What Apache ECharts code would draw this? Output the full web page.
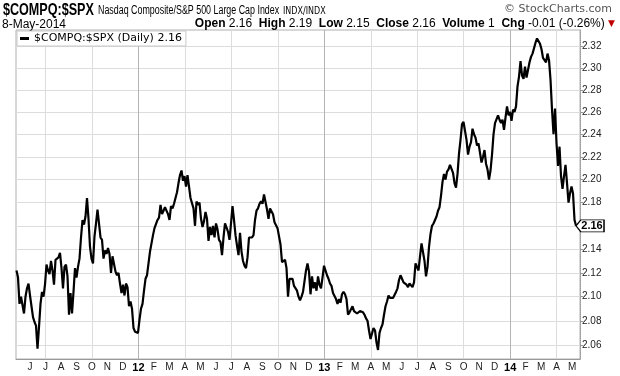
<!DOCTYPE html>
<html><head><meta charset="utf-8">
<script src="https://cdn.jsdelivr.net/npm/echarts@6/dist/echarts.min.js"></script>
<style>html,body{margin:0;padding:0;background:#fff}#c{width:620px;height:376px}</style>
</head><body><div id="c"></div>
<script>
// x positions: months since Jan 2011 (first session early May 2011), one reading every ~2 sessions
const startMonth = 4.1285;
const stepMonth = 0.09684;
const values = [
2.122,2.116,2.094,2.100,2.101,2.086,2.100,2.107,2.111,2.101,
2.101,2.083,2.079,2.076,2.057,2.075,2.094,2.104,2.100,2.110,
2.127,2.122,2.119,2.130,2.122,2.110,2.131,2.130,2.133,2.137,
2.124,2.107,2.125,2.127,2.117,2.085,2.103,2.086,2.104,2.124,
2.116,2.125,2.132,2.150,2.165,2.161,2.168,2.184,2.166,2.142,
2.132,2.128,2.151,2.162,2.174,2.175,2.150,2.148,2.132,2.139,
2.136,2.141,2.136,2.120,2.134,2.135,2.121,2.118,2.120,2.111,
2.103,2.110,2.101,2.111,2.108,2.092,2.096,2.090,2.074,2.071,
2.072,2.070,2.081,2.090,2.094,2.105,2.115,2.118,2.128,2.138,
2.145,2.152,2.158,2.158,2.165,2.167,2.178,2.170,2.173,2.176,
2.176,2.170,2.165,2.177,2.175,2.179,2.180,2.189,2.197,2.204,
2.208,2.199,2.203,2.194,2.204,2.203,2.184,2.185,2.175,2.160,
2.181,2.178,2.180,2.166,2.159,2.164,2.172,2.166,2.147,2.159,
2.152,2.160,2.150,2.162,2.157,2.148,2.146,2.135,2.150,2.162,
2.163,2.155,2.148,2.162,2.177,2.165,2.152,2.143,2.135,2.154,
2.138,2.130,2.126,2.124,2.133,2.150,2.150,2.150,2.152,2.165,
2.173,2.175,2.179,2.181,2.179,2.187,2.188,2.174,2.166,2.175,
2.176,2.170,2.163,2.162,2.158,2.158,2.144,2.129,2.129,2.131,
2.124,2.100,2.115,2.114,2.115,2.109,2.108,2.105,2.100,2.097,
2.100,2.104,2.113,2.122,2.128,2.121,2.102,2.117,2.107,2.112,
2.105,2.117,2.110,2.107,2.116,2.126,2.122,2.118,2.115,2.111,
2.109,2.103,2.102,2.098,2.094,2.098,2.095,2.102,2.104,2.102,
2.098,2.085,2.087,2.086,2.092,2.088,2.089,2.086,2.085,2.088,
2.087,2.087,2.085,2.082,2.080,2.072,2.065,2.065,2.074,2.072,
2.062,2.056,2.070,2.074,2.077,2.085,2.092,2.096,2.101,2.099,
2.098,2.099,2.099,2.104,2.107,2.114,2.118,2.115,2.112,2.113,
2.110,2.108,2.111,2.111,2.108,2.112,2.128,2.129,2.122,2.134,
2.145,2.145,2.130,2.117,2.125,2.142,2.153,2.160,2.162,2.162,
2.168,2.173,2.176,2.186,2.198,2.205,2.200,2.207,2.209,2.213,
2.212,2.206,2.197,2.193,2.205,2.223,2.235,2.249,2.251,2.251,
2.235,2.222,2.229,2.233,2.245,2.240,2.237,2.230,2.232,2.231,
2.215,2.220,2.226,2.214,2.209,2.200,2.208,2.222,2.240,2.250,
2.250,2.257,2.253,2.250,2.253,2.244,2.255,2.265,2.257,2.260,
2.252,2.262,2.260,2.265,2.283,2.292,2.306,2.293,2.290,2.301,
2.291,2.290,2.305,2.310,2.313,2.318,2.323,2.327,2.328,2.322,
2.317,2.309,2.308,2.305,2.313,2.307,2.289,2.262,2.240,2.263,
2.232,2.212,2.229,2.203,2.192,2.203,2.213,2.197,2.180,2.188,
2.194,2.188,2.165,2.160
];
const yTicks = [2.06,2.08,2.10,2.12,2.14,2.16,2.18,2.20,2.22,2.24,2.26,2.28,2.30,2.32];
const monthTicks = [5,6,7,8,9,10,11,12,13,14,15,16,17,18,19,20,21,22,23,24,25,26,27,28,29,30,31,32,33,34,35,36,37,38,39,40];
const quarterTicks = [6,9,12,15,18,21,24,27,30,33,36,39];
const monthLetters = ['J','F','M','A','M','J','J','A','S','O','N','D'];
const lastClose = 2.16;

const points = values.map((v, i) => [startMonth + i * stepMonth, v]);
const lastPoint = points[points.length - 1];

const chart = echarts.init(document.getElementById('c'), null, {renderer: 'canvas'});
chart.setOption({
  animation: false,
  backgroundColor: '#fff',
  grid: {left: 16, right: 40, top: 30, bottom: 17, show: true, borderColor: '#b0b0b0', borderWidth: 1},
  legend: {
    show: true, left: 17, top: 31, orient: 'horizontal',
    backgroundColor: '#fff', borderColor: '#c8c8c8', borderWidth: 1,
    padding: [2, 4, 2, 3], itemWidth: 9, itemHeight: 3, itemGap: 4,
    icon: 'rect',
    formatter: () => '$COMPQ:$SPX (Daily) ' + lastClose.toFixed(2),
    textStyle: {fontFamily: 'DejaVu Sans', fontSize: 11, color: '#000'}
  },
  xAxis: {
    type: 'value', min: 4.0962, max: 40.507,
    axisLine: {show: true, lineStyle: {color: '#999', width: 1}},
    axisTick: {show: false, customValues: quarterTicks},
    splitLine: {show: true, lineStyle: {color: ['#dcdcdc', '#dcdcdc', '#b4b4b4', '#dcdcdc'], width: 1}},
    axisLabel: {
      customValues: monthTicks, margin: 3,
      fontFamily: 'Liberation Sans', fontSize: 10, color: '#222',
      formatter: (v) => {
        const m = Math.round(v);
        const mi = m % 12;
        if (mi === 0) return '{y|' + (11 + m / 12) + '}';
        return monthLetters[mi];
      },
      rich: {y: {fontWeight: 'bold', fontSize: 11, fontFamily: 'Liberation Sans', color: '#000'}}
    }
  },
  yAxis: {
    type: 'log', position: 'right', min: 2.04863, max: 2.3348,
    axisLine: {show: true, lineStyle: {color: '#999', type: 'dotted', width: 1}},
    axisTick: {show: true, customValues: yTicks, length: 3, lineStyle: {color: '#999'}},
    splitLine: {show: true, lineStyle: {color: '#dcdcdc', width: 1}},
    axisLabel: {
      customValues: yTicks, margin: 2,
      fontFamily: 'Liberation Sans', fontSize: 10, color: '#222',
      formatter: (v) => Math.abs(v - lastClose) < 1e-6 ? '' : v.toFixed(2)
    }
  },
  series: [{
    name: 'main', type: 'line', data: points, showSymbol: false, symbol: 'none',
    lineStyle: {color: '#000', width: 2.2}, itemStyle: {color: '#000'},
    markPoint: {
      symbol: 'path://M0,6 L5,0 L29,0 L29,12 L5,12 Z',
      symbolSize: [28, 12], symbolOffset: [14, 0], symbolKeepAspect: false,
      itemStyle: {color: '#fff', borderColor: '#000', borderWidth: 1},
      label: {show: true, formatter: lastClose.toFixed(2), color: '#000', fontWeight: 'bold',
              fontFamily: 'Liberation Sans', fontSize: 11, offset: [2, 0]},
      data: [{coord: lastPoint}]
    }
  }],
  graphic: [
    {type: 'text', x: 3, y: 2, scaleX: 0.74, style: {text: '$COMPQ:$SPX', font: 'bold 17px "Liberation Sans", sans-serif', fill: '#000', textVerticalAlign: 'top'}},
    {type: 'text', x: 98, y: 5, scaleX: 0.74, style: {text: 'Nasdaq Composite/S&P 500 Large Cap Index', font: '12px "Liberation Sans", sans-serif', fill: '#000', textVerticalAlign: 'top'}},
    {type: 'text', x: 283, y: 6, scaleX: 0.8, style: {text: 'INDX/INDX', font: '10px "DejaVu Sans"', fill: '#000', textVerticalAlign: 'top'}},
    {type: 'text', right: 8, top: 4, style: {text: '\u00a9 StockCharts.com', font: '11px "DejaVu Sans"', fill: '#555'}},
    {type: 'text', left: 2, top: 19, style: {text: '8-May-2014', font: '12px "Liberation Sans"', fill: '#000'}},
    {type: 'text', right: 5, top: 18, style: {
      text: '{b|Open} {n|2.16}  {b|High} {n|2.19}  {b|Low} {n|2.15}  {b|Close} {n|2.16}  {b|Volume} {n|1}  {b|Chg} {n|-0.01 (-0.26%)} {r|\u25BC}',
      rich: {
        b: {font: 'bold 12px "Liberation Sans"', fill: '#000'},
        n: {font: '12px "Liberation Sans"', fill: '#000'},
        r: {font: '9px "DejaVu Sans"', fill: '#c00000'}
      }
    }}
  ]
});
</script>
</body></html>
